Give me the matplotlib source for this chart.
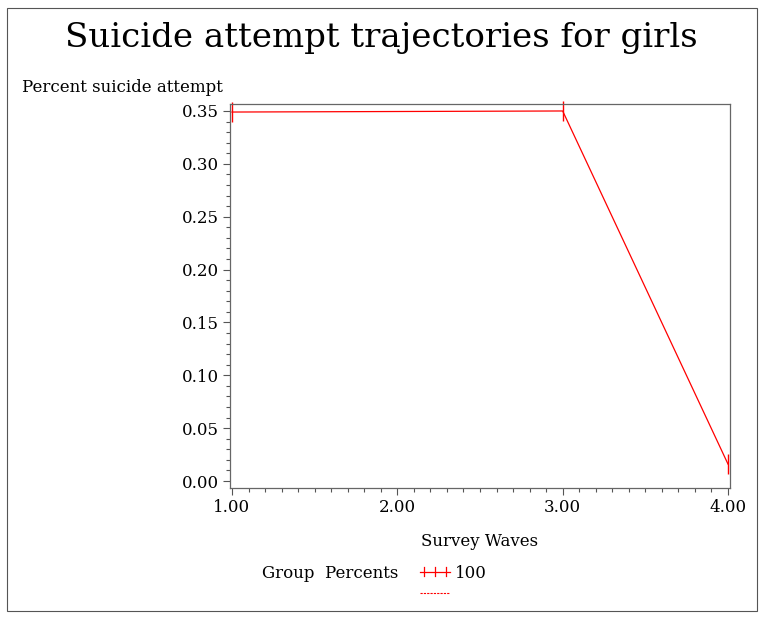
import matplotlib
matplotlib.use('Agg')
import matplotlib.pyplot as plt
from matplotlib.lines import Line2D
from matplotlib.patches import Rectangle
from matplotlib.ticker import MultipleLocator, FormatStrFormatter

plt.rcParams['font.family'] = ['DejaVu Serif']

waves = [1.0, 3.0, 4.0]
attempt_pct = [0.349, 0.350, 0.016]
group_label = '100'

fig = plt.figure(figsize=(7.64, 6.19), dpi=100)
fig.patches.append(Rectangle((7 / 764, 8 / 619), 750 / 764, 603 / 619, transform=fig.transFigure,
                             fill=False, edgecolor='#555555', linewidth=0.8))

ax = fig.add_axes([230 / 764, 1 - 488 / 619, 500 / 764, 384 / 619])
ax.plot(waves, attempt_pct, color='red', linewidth=0.9, marker='|', markersize=14,
        markeredgewidth=1.0, clip_on=False)

ax.set_xlim(0.988, 4.012)
ax.set_ylim(-0.0066, 0.3566)
ax.xaxis.set_major_locator(MultipleLocator(1.0))
ax.xaxis.set_minor_locator(MultipleLocator(0.1))
ax.yaxis.set_major_locator(MultipleLocator(0.05))
ax.yaxis.set_minor_locator(MultipleLocator(0.01))
ax.xaxis.set_major_formatter(FormatStrFormatter('%.2f'))
ax.yaxis.set_major_formatter(FormatStrFormatter('%.2f'))
ax.tick_params(which='major', direction='out', length=5, width=0.8, color='#555555',
               labelsize=12, pad=3)
ax.tick_params(which='minor', direction='out', length=3, width=0.8, color='#555555')
for s in ax.spines.values():
    s.set_color('#666666')
    s.set_linewidth(0.9)

fig.text(381 / 764, 1 - 38 / 619, 'Suicide attempt trajectories for girls', ha='center', va='center',
         fontsize=24.5)
fig.text(22 / 764, 1 - 88 / 619, 'Percent suicide attempt', ha='left', va='center', fontsize=12)
fig.text(480 / 764, 1 - 541 / 619, 'Survey Waves', ha='center', va='center', fontsize=12)

# legend
fig.text(262 / 764, 1 - 574 / 619, 'Group  Percents', ha='left', va='center', fontsize=12)
fig.add_artist(Line2D([420 / 764, 450 / 764], [1 - 572 / 619] * 2, transform=fig.transFigure,
                      color='red', linewidth=0.9))
for mx in [424, 435, 446]:
    fig.add_artist(Line2D([mx / 764] * 2, [1 - 567 / 619, 1 - 576 / 619], transform=fig.transFigure,
                          color='red', linewidth=0.9))
fig.add_artist(Line2D([420 / 764, 450 / 764], [1 - 593 / 619] * 2, transform=fig.transFigure,
                      color='red', linewidth=0.8, linestyle=(0, (2, 1))))
fig.text(455 / 764, 1 - 574 / 619, group_label, ha='left', va='center', fontsize=12)

fig.savefig('out.png', dpi=100)
